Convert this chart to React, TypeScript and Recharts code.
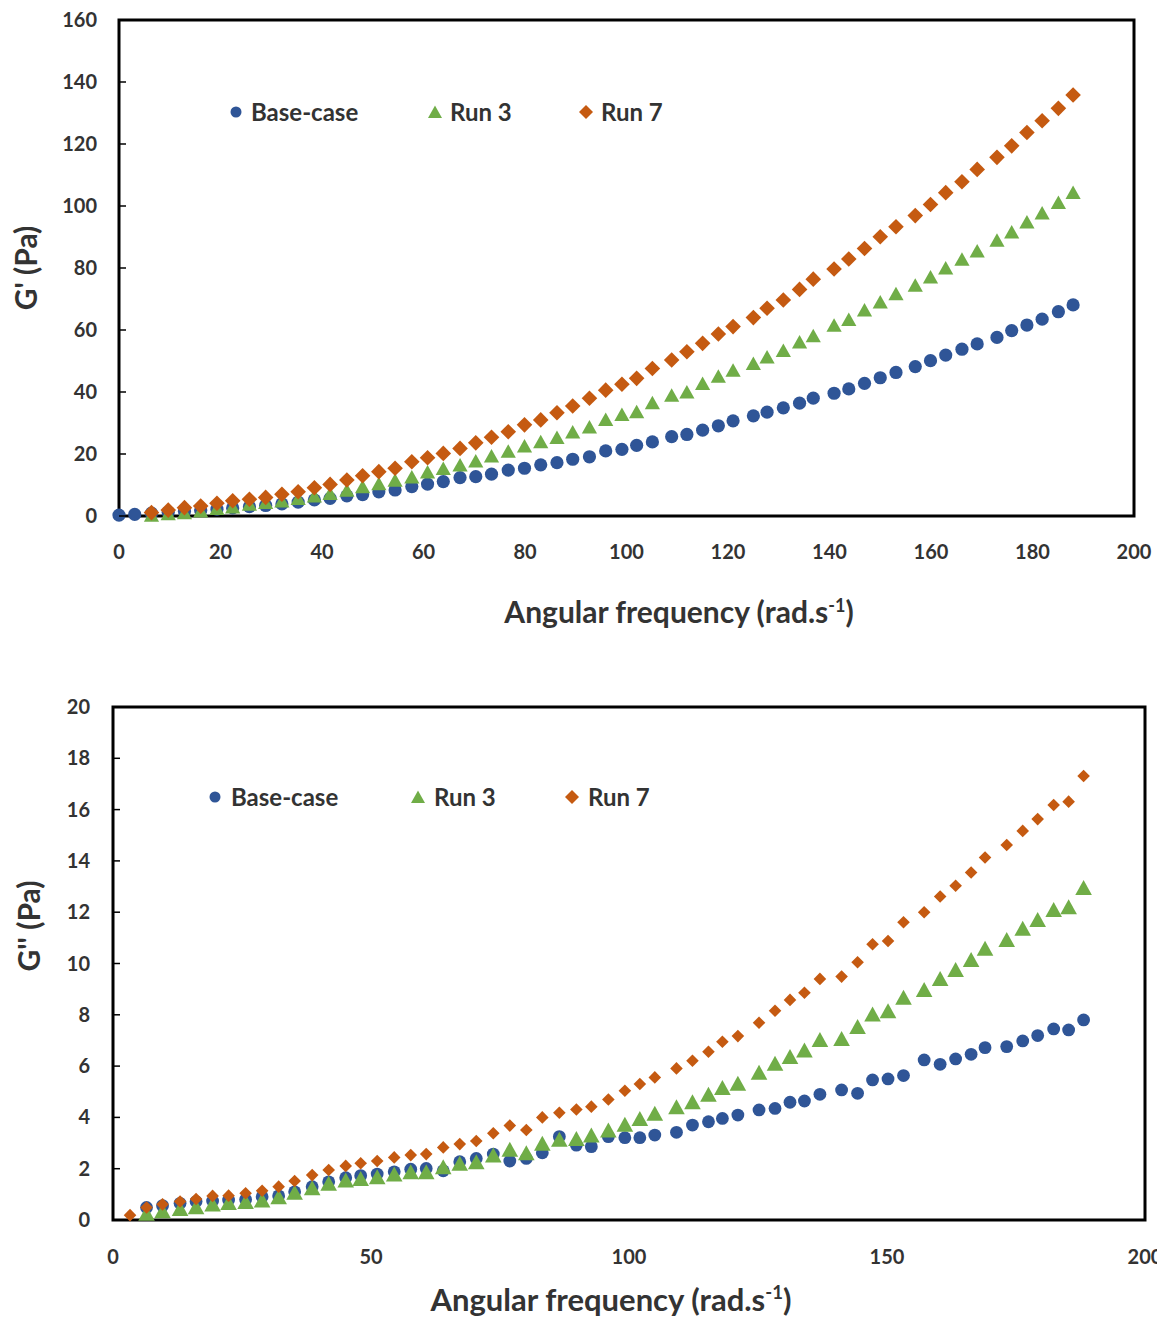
import React from 'react';
import { ScatterChart, Scatter, XAxis, YAxis, ReferenceArea, Legend } from 'recharts';

const BLUE = '#2F5597';
const GREEN = '#70AD47';
const ORANGE = '#C55A11';
const TEXT = '#333333';
const FONT = 'Lato, "Open Sans", sans-serif';

// G' panel (top)
const freqTop = [
  0, 3.1, 6.4, 9.7, 12.9, 16.1, 19.3, 22.4, 25.7, 28.9,
  32.1, 35.3, 38.5, 41.6, 44.9, 48.0, 51.2, 54.4, 57.7, 60.8,
  63.9, 67.2, 70.3, 73.4, 76.7, 79.9, 83.1, 86.3, 89.4, 92.7,
  95.9, 99.1, 102.0, 105.1, 108.9, 111.9, 115.0, 118.1, 121.0, 125.0,
  127.7, 130.9, 134.1, 136.8, 140.9, 143.8, 146.9, 150.0, 153.1, 156.9,
  159.9, 162.9, 166.1, 169.1, 173.0, 175.9, 178.9, 181.9, 185.1, 188.0,
];
const gPrimeBase = [
  0.3, 0.5, 0.9, 1.2, 1.5, 1.8, 2.2, 2.6, 3.0, 3.4,
  3.9, 4.5, 5.2, 5.7, 6.5, 6.9, 7.8, 8.4, 9.5, 10.3,
  11.1, 12.4, 12.7, 13.5, 14.8, 15.4, 16.5, 17.2, 18.3, 19.1,
  21.0, 21.5, 22.8, 23.9, 25.6, 26.3, 27.7, 29.1, 30.7, 32.3,
  33.5, 34.9, 36.4, 38.0, 39.6, 41.0, 42.8, 44.6, 46.3, 48.2,
  50.1, 51.9, 53.8, 55.5, 57.6, 59.8, 61.6, 63.5, 65.9, 68.1,
];
const gPrimeRun3 = [
  null, null, 0.3, 0.8, 1.1, 1.7, 2.5, 3.0, 3.9, 4.4,
  4.9, 5.7, 6.5, 7.3, 8.4, 9.5, 10.5, 11.6, 12.7, 14.3,
  15.4, 16.5, 17.8, 19.4, 21.0, 22.7, 24.0, 25.4, 27.2, 28.8,
  31.2, 32.8, 33.7, 36.6, 39.0, 40.1, 42.8, 45.2, 47.1, 49.3,
  51.4, 53.5, 56.2, 58.2, 61.6, 63.5, 66.5, 69.1, 71.8, 74.5,
  77.2, 80.1, 82.9, 85.6, 89.0, 91.7, 94.9, 97.8, 101.2, 104.4,
];
const gPrimeRun7 = [
  null, null, 1.1, 1.9, 2.7, 3.2, 4.1, 4.9, 5.4, 6.0,
  7.0, 7.8, 9.1, 10.2, 11.6, 13.0, 14.3, 15.4, 17.5, 18.8,
  20.2, 21.8, 23.6, 25.4, 27.2, 29.4, 31.0, 33.3, 35.5, 38.0,
  40.6, 42.5, 44.4, 47.6, 50.3, 53.0, 55.7, 58.7, 61.1, 64.0,
  67.0, 69.7, 73.1, 76.4, 79.7, 82.9, 86.3, 90.1, 93.3, 96.9,
  100.5, 104.3, 107.8, 111.8, 115.7, 119.4, 123.7, 127.5, 131.5, 135.8,
];

// G'' panel (bottom)
const freqBottom = [
  3.3, 6.5, 9.6, 13.0, 16.1, 19.3, 22.4, 25.7, 28.9, 32.1,
  35.2, 38.6, 41.8, 45.1, 48.0, 51.2, 54.5, 57.7, 60.7, 64.0,
  67.2, 70.4, 73.7, 76.9, 80.1, 83.2, 86.5, 89.8, 92.7, 96.0,
  99.2, 102.1, 105.0, 109.2, 112.3, 115.4, 118.1, 121.1, 125.2, 128.3,
  131.2, 134.0, 137.0, 141.2, 144.3, 147.2, 150.2, 153.2, 157.2, 160.3,
  163.3, 166.3, 169.0, 173.2, 176.3, 179.2, 182.3, 185.2, 188.1,
];
const gDoubleBase = [
  null, 0.49, 0.56, 0.65, 0.72, 0.74, 0.78, 0.80, 0.91, 0.94,
  1.10, 1.30, 1.49, 1.65, 1.73, 1.79, 1.88, 1.98, 2.01, 1.92,
  2.27, 2.40, 2.57, 2.30, 2.40, 2.62, 3.25, 2.92, 2.86, 3.25,
  3.21, 3.21, 3.31, 3.42, 3.70, 3.83, 3.96, 4.09, 4.29, 4.35,
  4.59, 4.64, 4.90, 5.07, 4.94, 5.46, 5.50, 5.63, 6.24, 6.07,
  6.28, 6.46, 6.72, 6.76, 6.98, 7.19, 7.45, 7.41, 7.80,
];
const gDoubleRun3 = [
  null, 0.26, 0.36, 0.45, 0.52, 0.62, 0.68, 0.72, 0.78, 0.91,
  1.08, 1.26, 1.43, 1.56, 1.62, 1.69, 1.79, 1.88, 1.88, 2.08,
  2.21, 2.27, 2.53, 2.76, 2.62, 2.99, 3.15, 3.18, 3.31, 3.51,
  3.73, 3.96, 4.16, 4.42, 4.61, 4.90, 5.17, 5.33, 5.76, 6.11,
  6.37, 6.63, 7.04, 7.08, 7.54, 8.03, 8.16, 8.68, 8.99, 9.42,
  9.77, 10.16, 10.59, 10.94, 11.37, 11.72, 12.11, 12.21, 12.96,
];
const gDoubleRun7 = [
  0.19, 0.49, 0.61, 0.72, 0.82, 0.94, 0.95, 1.04, 1.14, 1.30,
  1.52, 1.75, 1.95, 2.11, 2.21, 2.30, 2.44, 2.53, 2.57, 2.83,
  2.96, 3.08, 3.38, 3.68, 3.51, 4.00, 4.18, 4.31, 4.42, 4.70,
  5.04, 5.30, 5.56, 5.91, 6.21, 6.56, 6.95, 7.17, 7.69, 8.16,
  8.58, 8.86, 9.40, 9.49, 10.05, 10.75, 10.88, 11.61, 12.00, 12.61,
  13.03, 13.55, 14.13, 14.62, 15.17, 15.63, 16.18, 16.31, 17.31,
];

const seriesNames = ['Base-case', 'Run 3', 'Run 7'];
const xTicksTop = [0, 20, 40, 60, 80, 100, 120, 140, 160, 180, 200];
const yTicksTop = [0, 20, 40, 60, 80, 100, 120, 140, 160];
const xTicksBottom = [0, 50, 100, 150, 200];
const yTicksBottom = [0, 2, 4, 6, 8, 10, 12, 14, 16, 18, 20];

const toPoints = (freq: number[], vals: (number | null)[]) =>
  freq.map((f, i) => ({ f, v: vals[i] })).filter((p) => p.v != null);

const circleShape = (r: number) => (p: any) => (
  <circle cx={p.cx} cy={p.cy} r={r} fill={BLUE} />
);
const triangleShape = (half: number, h: number) => (p: any) => (
  <polygon
    points={`${p.cx},${p.cy - h / 2} ${p.cx + half},${p.cy + h / 2} ${p.cx - half},${p.cy + h / 2}`}
    fill={GREEN}
  />
);
const diamondShape = (d: number) => (p: any) => (
  <polygon
    points={`${p.cx},${p.cy - d} ${p.cx + d},${p.cy} ${p.cx},${p.cy + d} ${p.cx - d},${p.cy}`}
    fill={ORANGE}
  />
);

const legendIcons = [
  <circle cx={8} cy={8} r={5.5} fill={BLUE} />,
  <polygon points="8,1.5 15,14 1,14" fill={GREEN} />,
  <polygon points="8,1 15,8 8,15 1,8" fill={ORANGE} />,
];

function LegendBox({ widths, gap }: { widths: number[]; gap: number }) {
  return (
    <div
      style={{
        display: 'flex',
        alignItems: 'center',
        fontFamily: FONT,
        fontWeight: 700,
        fontSize: 24,
        lineHeight: '26px',
        color: TEXT,
        whiteSpace: 'nowrap',
      }}
    >
      {seriesNames.map((name, i) => (
        <div key={name} style={{ width: widths[i], display: 'flex', alignItems: 'center' }}>
          <svg width={16} height={16} style={{ display: 'block' }}>
            {legendIcons[i]}
          </svg>
          <span style={{ marginLeft: gap }}>{name}</span>
        </div>
      ))}
    </div>
  );
}

const XTick = ({ x, y, payload, dy }: any) => (
  <text x={x} y={y + dy} textAnchor="middle" fill={TEXT} fontFamily={FONT} fontWeight={700} fontSize={20}>
    {payload.value}
  </text>
);

const YTick = ({ x, y, payload, gap }: any) => (
  <g>
    <line x1={x} x2={x + 7} y1={y} y2={y} stroke="#000" strokeWidth={1.5} />
    <text x={x - gap} y={y + 7} textAnchor="end" fill={TEXT} fontFamily={FONT} fontWeight={700} fontSize={20}>
      {payload.value}
    </text>
  </g>
);

const titleStyle: React.CSSProperties = {
  position: 'absolute',
  fontFamily: FONT,
  fontWeight: 700,
  color: TEXT,
  whiteSpace: 'nowrap',
  lineHeight: 1,
  transform: 'translate(-50%, -50%)',
};

function FreqTitle({ left, top, size }: { left: number; top: number; size: number }) {
  return (
    <div style={{ ...titleStyle, left, top, fontSize: size }}>
      Angular frequency (rad.s
      <sup style={{ fontSize: size * 0.6, lineHeight: 0 }}>-1</sup>)
    </div>
  );
}

function ModTitle({ left, top, text }: { left: number; top: number; text: string }) {
  return (
    <div style={{ ...titleStyle, left, top, fontSize: 30, transform: 'translate(-50%, -50%) rotate(-90deg)' }}>
      {text}
    </div>
  );
}

export default function App() {
  return (
    <div
      style={{
        position: 'absolute',
        left: 0,
        top: 0,
        width: 1157,
        height: 1317,
        background: '#fff',
        overflow: 'hidden',
      }}
    >
      <div style={{ position: 'absolute', left: 0, top: 0 }}>
        <ScatterChart width={1157} height={640} margin={{ top: 20, right: 23, bottom: 0, left: 0 }}>
          <XAxis
            type="number"
            dataKey="f"
            domain={[0, 200]}
            ticks={xTicksTop}
            height={124}
            axisLine={false}
            tickLine={false}
            tickSize={0}
            tickMargin={0}
            tick={(props: any) => <XTick {...props} dy={43} />}
          />
          <YAxis
            type="number"
            dataKey="v"
            domain={[0, 160]}
            ticks={yTicksTop}
            width={119}
            axisLine={false}
            tickLine={false}
            tickSize={0}
            tickMargin={0}
            tick={(props: any) => <YTick {...props} gap={22} />}
          />
          <ReferenceArea x1={0} x2={200} y1={0} y2={160} fill="none" stroke="#000" strokeWidth={3} />
          <Legend
            layout="horizontal"
            verticalAlign="middle"
            align="center"
            wrapperStyle={{ top: 99, left: 228, width: 'auto' }}
            content={() => <LegendBox widths={[199, 151, 100]} gap={7} />}
          />
          <Scatter name={seriesNames[0]} data={toPoints(freqTop, gPrimeBase)} shape={circleShape(6.6)} isAnimationActive={false} />
          <Scatter name={seriesNames[1]} data={toPoints(freqTop, gPrimeRun3)} shape={triangleShape(7.6, 13.5)} isAnimationActive={false} />
          <Scatter name={seriesNames[2]} data={toPoints(freqTop, gPrimeRun7)} shape={diamondShape(7.8)} isAnimationActive={false} />
        </ScatterChart>
      </div>
      <FreqTitle left={679} top={611} size={30} />
      <ModTitle left={25} top={268} text="G' (Pa)" />

      <div style={{ position: 'absolute', left: 0, top: 687 }}>
        <ScatterChart width={1157} height={640} margin={{ top: 20, right: 12, bottom: 0, left: 0 }}>
          <XAxis
            type="number"
            dataKey="f"
            domain={[0, 200]}
            ticks={xTicksBottom}
            height={107}
            axisLine={false}
            tickLine={false}
            tickSize={0}
            tickMargin={0}
            tick={(props: any) => <XTick {...props} dy={44} />}
          />
          <YAxis
            type="number"
            dataKey="v"
            domain={[0, 20]}
            ticks={yTicksBottom}
            width={113}
            axisLine={false}
            tickLine={false}
            tickSize={0}
            tickMargin={0}
            tick={(props: any) => <YTick {...props} gap={23} />}
          />
          <ReferenceArea x1={0} x2={200} y1={0} y2={20} fill="none" stroke="#000" strokeWidth={3} />
          <Legend
            layout="horizontal"
            verticalAlign="middle"
            align="center"
            wrapperStyle={{ top: 97, left: 207, width: 'auto' }}
            content={() => <LegendBox widths={[203, 154, 100]} gap={8} />}
          />
          <Scatter name={seriesNames[0]} data={toPoints(freqBottom, gDoubleBase)} shape={circleShape(6.4)} isAnimationActive={false} />
          <Scatter name={seriesNames[1]} data={toPoints(freqBottom, gDoubleRun3)} shape={triangleShape(8.3, 15)} isAnimationActive={false} />
          <Scatter name={seriesNames[2]} data={toPoints(freqBottom, gDoubleRun7)} shape={diamondShape(6.3)} isAnimationActive={false} />
        </ScatterChart>
      </div>
      <FreqTitle left={611} top={1299} size={31} />
      <ModTitle left={28} top={926} text="G'' (Pa)" />
    </div>
  );
}
